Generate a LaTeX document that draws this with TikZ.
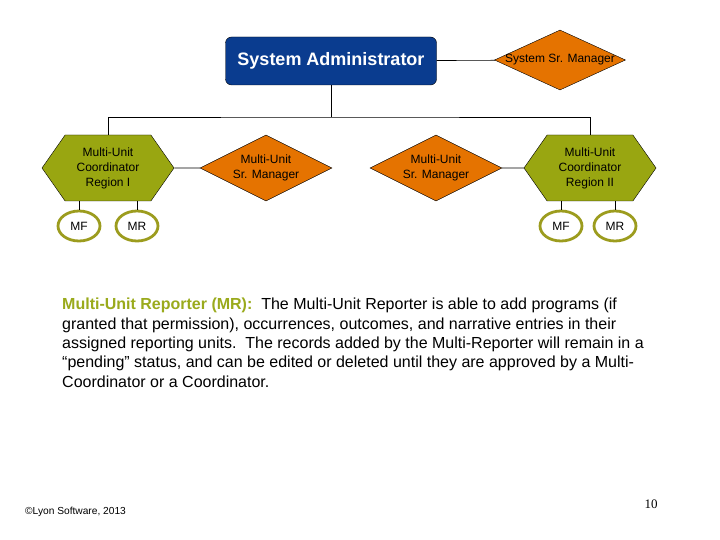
\documentclass[tikz,border=0pt]{standalone}
\usepackage{fontspec}
\setmainfont{Liberation Sans}
\newfontfamily\serifnum{Liberation Serif}
\usepackage{tikz}
\usetikzlibrary{shapes.geometric, shapes.symbols, positioning}
\definecolor{adminblue}{HTML}{0A3C8F}
\definecolor{mgrorange}{HTML}{E57300}
\definecolor{coordolive}{HTML}{99A611}
\definecolor{ringolive}{HTML}{9C9C1E}
\definecolor{termolive}{HTML}{9AAA1C}

\begin{document}
\begin{tikzpicture}[x=1pt, y=-1pt,
  adminbox/.style={draw=black, fill=adminblue, rounded corners=6pt, minimum width=211pt, minimum height=48pt, text=white, font=\fontsize{18}{20}\selectfont\bfseries},
  mgrdiamond/.style={diamond, draw=black, fill=mgrorange, aspect=2, inner sep=0pt, minimum width=132pt, minimum height=66pt, align=center, font=\fontsize{12}{15}\selectfont},
  coordhex/.style={signal, signal to=east and west, signal pointer angle=110, draw=black, fill=coordolive, minimum width=132pt, minimum height=66pt, inner sep=0pt, align=center, font=\fontsize{12}{15}\selectfont},
  roleoval/.style={ellipse, draw=ringolive, line width=2.8pt, fill=white, minimum width=42pt, minimum height=30pt, inner sep=0pt, font=\fontsize{12}{14}\selectfont},
  link/.style={draw=black, line width=0.6pt}
]
  \useasboundingbox[fill=white] (0,0) rectangle (720,540);

  \node[adminbox] (admin) at (331,61) {System Administrator};
  \node[mgrdiamond, minimum width=131pt, minimum height=60pt] (sysmgr) at (560,60) {\makebox[0pt]{System Sr. Manager}};
  \draw[link] (admin) -- (sysmgr);

  \node[coordhex] (hexL) at (108,168) {Multi-Unit\\Coordinator\\Region I};
  \node[mgrdiamond] (mgrL) at (266,168) {Multi-Unit\\Sr. Manager};
  \node[mgrdiamond] (mgrR) at (436,168) {Multi-Unit\\Sr. Manager};
  \node[coordhex] (hexR) at (590,168) {Multi-Unit\\Coordinator\\Region II};
  \draw[link] (hexL) -- (mgrL);
  \draw[link] (mgrR) -- (hexR);

  \coordinate (bus) at (331,117);
  \draw[link] (admin) -- (bus);
  \draw[link] (hexL.north) |- (bus) -| (hexR.north);

  \node[roleoval] (mfL) at (79,226) {MF};
  \node[roleoval] (mrL) at (137,226) {MR};
  \node[roleoval] (mfR) at (561,226) {MF};
  \node[roleoval] (mrR) at (615,226) {MR};
  \foreach \r in {mfL,mrL}
    \draw[link] (\r) -- (\r |- hexL.south);
  \foreach \r in {mfR,mrR}
    \draw[link] (\r) -- (\r |- hexR.south);

  \node[anchor=north west, align=left, inner sep=0pt, font=\fontsize{16}{19.4}\selectfont] (note) at (62,298)
    {{\bfseries\color{termolive}Multi-Unit Reporter (MR):}\ \ The Multi-Unit Reporter is able to add programs (if\\
     granted that permission), occurrences, outcomes, and narrative entries in their\\
     assigned reporting units.\ \ The records added by the Multi-Reporter will remain in a\\
     ``pending'' status, and can be edited or deleted until they are approved by a Multi-\\
     Coordinator or a Coordinator.};

  \node[anchor=west, inner sep=0pt, font=\fontsize{10.2}{12}\selectfont] (copy) at (25,512) {\textcopyright Lyon Software, 2013};
  \node[inner sep=0pt, font=\fontsize{13}{15}\serifnum] (page) at (651,504) {10};
\end{tikzpicture}
\end{document}
